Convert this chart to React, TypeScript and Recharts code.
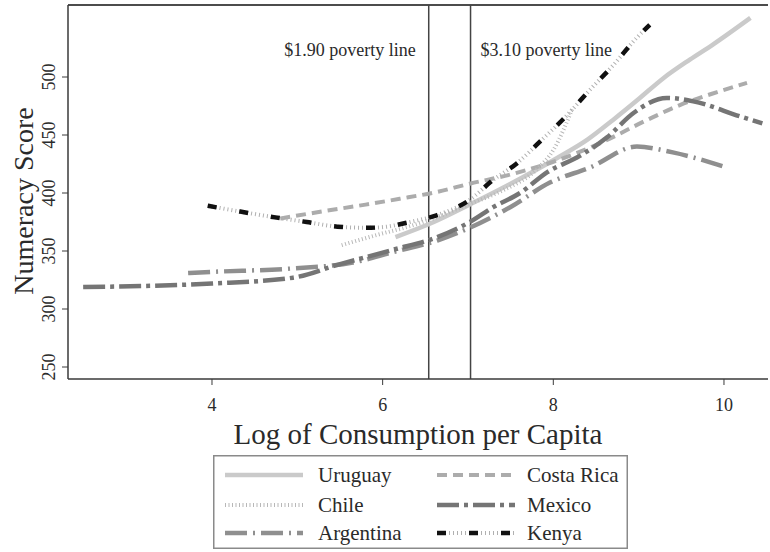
import React from 'react';
import { LineChart, Line, XAxis, YAxis, ReferenceLine, Legend } from 'recharts';

const FONT = '"Liberation Serif", "DejaVu Serif", serif';
const TEXT = '#2a2a2a';

// Smoothed numeracy score against log consumption per capita, one curve per country
const uruguay = [
  { x: 6.15, y: 362 }, { x: 6.6, y: 375 }, { x: 7.02, y: 390 }, { x: 7.5, y: 408 },
  { x: 8.04, y: 430 }, { x: 8.4, y: 446 }, { x: 8.7, y: 463 }, { x: 9.0, y: 481 },
  { x: 9.29, y: 499 }, { x: 9.6, y: 515 }, { x: 9.87, y: 528 }, { x: 10.31, y: 551 },
];
const costaRica = [
  { x: 4.8, y: 378 }, { x: 5.2, y: 383 }, { x: 5.8, y: 390 }, { x: 6.2, y: 395 },
  { x: 6.64, y: 401 }, { x: 7.02, y: 408 }, { x: 7.5, y: 416 }, { x: 8.04, y: 428 },
  { x: 8.55, y: 443 }, { x: 9.1, y: 463 }, { x: 9.49, y: 476 }, { x: 9.92, y: 487 },
  { x: 10.27, y: 495 },
];
const chile = [
  { x: 5.52, y: 355 }, { x: 5.94, y: 364 }, { x: 6.3, y: 371 }, { x: 6.7, y: 381 },
  { x: 7.0, y: 390 }, { x: 7.4, y: 402 }, { x: 7.8, y: 420 }, { x: 8.0, y: 437 },
  { x: 8.23, y: 474 },
];
const argentina = [
  { x: 3.72, y: 331 }, { x: 4.0, y: 332 }, { x: 4.95, y: 335 }, { x: 5.65, y: 340 },
  { x: 6.12, y: 349 }, { x: 6.64, y: 359 }, { x: 7.02, y: 370 }, { x: 7.5, y: 388 },
  { x: 7.96, y: 409 }, { x: 8.43, y: 422 }, { x: 8.98, y: 440 }, { x: 9.4, y: 435 },
  { x: 9.99, y: 423 },
];
const mexico = [
  { x: 2.49, y: 319 }, { x: 3.3, y: 320 }, { x: 4.0, y: 322 }, { x: 4.95, y: 327 },
  { x: 5.47, y: 338 }, { x: 6.12, y: 351 }, { x: 6.64, y: 362 }, { x: 7.02, y: 375 },
  { x: 7.3, y: 388 }, { x: 7.61, y: 400 }, { x: 7.93, y: 418 }, { x: 8.31, y: 432 },
  { x: 8.63, y: 448 }, { x: 8.94, y: 469 }, { x: 9.33, y: 482 }, { x: 9.64, y: 479 },
  { x: 10.19, y: 466 }, { x: 10.45, y: 460 },
];
const kenya = [
  { x: 3.95, y: 389 }, { x: 4.33, y: 384 }, { x: 4.74, y: 379 }, { x: 5.11, y: 375 },
  { x: 5.47, y: 371 }, { x: 5.82, y: 370 }, { x: 6.05, y: 371 }, { x: 6.32, y: 375 },
  { x: 6.64, y: 381 }, { x: 7.02, y: 394 }, { x: 7.29, y: 411 }, { x: 7.58, y: 426 },
  { x: 7.84, y: 444 }, { x: 8.16, y: 467 }, { x: 8.43, y: 489 }, { x: 8.7, y: 510 },
  { x: 8.98, y: 534 }, { x: 9.13, y: 545 },
];

const xTicks = [4, 6, 8, 10];
const yTicks = [250, 300, 350, 400, 450, 500];
const xDomain: [number, number] = [2.3125, 10.516];
const yDomain: [number, number] = [239.66, 562.07];

const povertyLines = [
  { x: 6.54, label: '$1.90 poverty line', side: 'left' },
  { x: 7.03, label: '$3.10 poverty line', side: 'right' },
];

type Stroke = { color: string; width: number; dash?: string };
type Series = { name: string; data: { x: number; y: number }[]; strokes: Stroke[] };

const series: Series[] = [
  { name: 'Uruguay', data: uruguay, strokes: [{ color: '#cacaca', width: 4.5 }] },
  { name: 'Costa Rica', data: costaRica, strokes: [{ color: '#acacac', width: 4, dash: '10 6' }] },
  { name: 'Chile', data: chile, strokes: [{ color: '#b8b8b8', width: 4, dash: '1 2.5' }] },
  { name: 'Argentina', data: argentina, strokes: [{ color: '#8f8f8f', width: 4.5, dash: '22 6 2 6' }] },
  { name: 'Mexico', data: mexico, strokes: [{ color: '#757575', width: 4.5, dash: '22 5 4 5' }] },
  {
    name: 'Kenya',
    data: kenya,
    strokes: [
      { color: '#b0b0b0', width: 4, dash: '1 3' },
      { color: '#111111', width: 4.5, dash: '9 23' },
    ],
  },
];

const legendOrder = [
  ['Uruguay', 'Chile', 'Argentina'],
  ['Costa Rica', 'Mexico', 'Kenya'],
];

const LegendBox = () => {
  const colX = [12, 224];
  const textX = [105, 314];
  const rowY = [20, 50, 78];
  return (
    <svg width={415} height={94} style={{ display: 'block' }}>
      <rect x={0.75} y={0.75} width={413.5} height={92.5} fill="#fff" stroke="#8a8a8a" strokeWidth={1.5} />
      {legendOrder.map((col, ci) =>
        col.map((name, ri) => {
          const s = series.find((d) => d.name === name)!;
          return (
            <g key={name}>
              {s.strokes.map((st, k) => (
                <line
                  key={k}
                  x1={colX[ci]}
                  x2={colX[ci] + 78}
                  y1={rowY[ri]}
                  y2={rowY[ri]}
                  stroke={st.color}
                  strokeWidth={st.width}
                  strokeDasharray={st.dash}
                />
              ))}
              <text
                x={textX[ci]}
                y={rowY[ri] + 7}
                fontSize={21}
                fontFamily={FONT}
                fill={TEXT}
              >
                {name}
              </text>
            </g>
          );
        })
      )}
    </svg>
  );
};

const XTick = (props: any) => {
  const { x, y, payload } = props;
  return (
    <text x={x} y={y + 24} textAnchor="middle" fontSize={18} fontFamily={FONT} fill={TEXT}>
      {payload.value}
    </text>
  );
};

const YTick = (props: any) => {
  const { x, y, payload } = props;
  const bx = x - 5;
  return (
    <text
      x={bx}
      y={y}
      transform={`rotate(-90 ${bx} ${y})`}
      textAnchor="middle"
      fontSize={18}
      fontFamily={FONT}
      fill={TEXT}
    >
      {payload.value}
    </text>
  );
};

const PovertyLabel = (side: string, text: string) => (props: any) => {
  const vb = props.viewBox || {};
  const left = side === 'left';
  return (
    <text
      x={left ? vb.x - 13 : vb.x + 10}
      y={vb.y + 51}
      textAnchor={left ? 'end' : 'start'}
      fontSize={18}
      fontFamily={FONT}
      fill={TEXT}
    >
      {text}
    </text>
  );
};

const XTitle = (props: any) => {
  const vb = props.viewBox || {};
  return (
    <text x={vb.x + vb.width / 2} y={vb.y + 65} textAnchor="middle" fontSize={29} fontFamily={FONT} fill={TEXT}>
      Log of Consumption per Capita
    </text>
  );
};

const YTitle = () => {
  const cx = 33;
  const cy = 201;
  return (
    <text
      x={cx}
      y={cy}
      transform={`rotate(-90 ${cx} ${cy})`}
      textAnchor="middle"
      fontSize={28}
      fontFamily={FONT}
      fill={TEXT}
    >
      Numeracy Score
    </text>
  );
};

export default function App() {
  return (
    <div style={{ position: 'absolute', left: 0, top: 0, width: 770, height: 552, background: '#fff' }}>
      <LineChart width={770} height={552} margin={{ top: 5, right: 2, left: 8, bottom: 121 }}>
        <XAxis
          type="number"
          dataKey="x"
          domain={xDomain}
          ticks={xTicks}
          allowDataOverflow
          height={52}
          axisLine={{ stroke: '#3a3a3a', strokeWidth: 1.5 }}
          tickLine={{ stroke: '#3a3a3a' }}
          tickSize={6}
          tick={<XTick />}
          label={<XTitle />}
        />
        <YAxis
          type="number"
          dataKey="y"
          domain={yDomain}
          ticks={yTicks}
          allowDataOverflow
          width={60}
          axisLine={{ stroke: '#3a3a3a', strokeWidth: 1.5 }}
          tickLine={{ stroke: '#3a3a3a' }}
          tickSize={6}
          tick={<YTick />}
          label={<YTitle />}
        />
        <ReferenceLine y={yDomain[1]} stroke="#111" strokeWidth={1.5} />
        {povertyLines.map((p) => (
          <ReferenceLine
            key={p.label}
            x={p.x}
            stroke="#444"
            strokeWidth={1.5}
            label={PovertyLabel(p.side, p.label)}
          />
        ))}
        {series.flatMap((s) =>
          s.strokes.map((st, k) => (
            <Line
              key={`${s.name}-${k}`}
              name={s.name}
              data={s.data}
              dataKey="y"
              type="monotone"
              stroke={st.color}
              strokeWidth={st.width}
              strokeDasharray={st.dash}
              dot={false}
              activeDot={false}
              isAnimationActive={false}
              legendType={k === 0 ? 'line' : 'none'}
            />
          ))
        )}
        <Legend
          layout="vertical"
          align="center"
          verticalAlign="middle"
          wrapperStyle={{ left: 213, top: 455, width: 415, height: 94 }}
          content={() => <LegendBox />}
        />
      </LineChart>
    </div>
  );
}
